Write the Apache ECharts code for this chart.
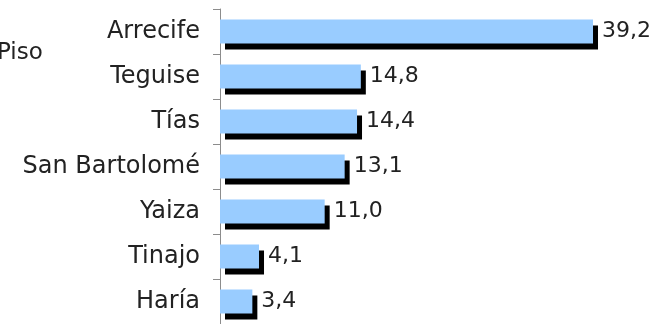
<!DOCTYPE html>
<html>
<head>
<meta charset="utf-8">
<script src="https://cdn.jsdelivr.net/npm/echarts@6/dist/echarts.min.js"></script>
<style>
  html, body { margin: 0; padding: 0; background: #fff; }
  #chart { width: 654px; height: 324px; }
</style>
</head>
<body>
<div id="chart"></div>
<script>
// Municipalities and their share (%) for "Piso"
const municipios = ['Arrecife', 'Teguise', 'Tías', 'San Bartolomé', 'Yaiza', 'Tinajo', 'Haría'];
const valores = [39.2, 14.8, 14.4, 13.1, 11.0, 4.1, 3.4];
const serieNombre = 'Piso';

const FONT = '"DejaVu Sans", sans-serif';
const fmt = v => v.toFixed(1).replace('.', ',');

const chart = echarts.init(document.getElementById('chart'), null, { renderer: 'canvas' });
chart.setOption({
  animation: false,
  grid: { left: 220, top: 9, width: 428.2, height: 317 },
  xAxis: {
    type: 'value', min: 0, max: 45,
    show: false
  },
  yAxis: {
    type: 'category',
    data: municipios,
    inverse: true,
    axisLine: { show: true, lineStyle: { color: '#8c8c8c', width: 1 } },
    axisTick: { show: true, inside: false, length: 7, lineStyle: { color: '#8c8c8c', width: 1 } },
    axisLabel: { margin: 20, fontSize: 24, color: '#222', fontFamily: FONT }
  },
  graphic: [{
    type: 'text', left: -3, top: 42,
    style: { text: serieNombre, fontSize: 23, fill: '#222', fontFamily: FONT }
  }],
  series: [{
    name: serieNombre,
    type: 'bar',
    data: valores,
    barWidth: 24,
    itemStyle: {
      color: '#99ccff',
      shadowColor: '#000',
      shadowBlur: 0,
      shadowOffsetX: 5,
      shadowOffsetY: 6
    },
    label: {
      show: true, position: 'right', distance: 9,
      formatter: p => fmt(p.value),
      fontSize: 22, color: '#222', fontFamily: FONT
    }
  }]
});
</script>
</body>
</html>
